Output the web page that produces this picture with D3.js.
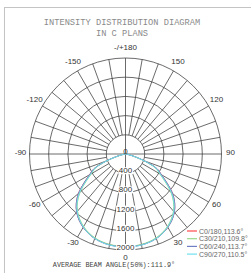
<!DOCTYPE html>
<html>
<head>
<meta charset="utf-8">
<script src="https://cdn.jsdelivr.net/npm/d3@7"></script>
<style>
  html, body { margin: 0; padding: 0; background: #fff; }
  svg { display: block; }
</style>
</head>
<body>
<svg id="chart" width="251" height="273"></svg>
<script>
// gamma angles (deg) for each sample, 0 = straight down
const gammas = [0, 5, 10, 15, 20, 25, 30, 35, 40, 45, 50, 55, 60, 65, 70, 75, 80, 85, 90];

// candela values, one array per C plane pair
const c0 = [1930, 1928, 1920, 1902, 1872, 1825, 1762, 1682, 1582, 1448, 1278, 1055, 862, 720, 420, 160, 50, 12, 0];
const c30 = [1925, 1922, 1912, 1892, 1860, 1810, 1745, 1660, 1555, 1415, 1235, 1010, 820, 690, 400, 150, 45, 10, 0];
const c60 = [1935, 1932, 1924, 1905, 1875, 1828, 1765, 1685, 1585, 1450, 1280, 1058, 865, 725, 425, 162, 50, 12, 0];
const c90 = [1940, 1936, 1926, 1905, 1873, 1823, 1755, 1672, 1566, 1428, 1250, 1025, 835, 700, 410, 155, 48, 11, 0];

const seriesNames = ["C0/180,113.6°", "C30/210,109.8°", "C60/240,113.7°", "C90/270,110.5°"];
const seriesColors = ["#ff4a4a", "#99d98a", "#6f7fc4", "#6fe0ee"];

const ringValues = [0, 400, 800, 1200, 1600, 2000];
const angleLabels = [180, 150, 120, 90, 60, 30, 0, -30, -60, -90, -120, -150];

const titleLines = ["INTENSITY DISTRIBUTION DIAGRAM", "IN C PLANS"];
const footer = "AVERAGE BEAM ANGLE(50%):111.9°";

const CX = 125.5;
const CY = 154;
const R = 96;
const LABEL_R = 105;
const GRID = "#3a3a3a";

const svg = d3.select("#chart");

// outer frame, only top and left show inside the window
svg.append("rect")
  .attr("x", 4.5).attr("y", 7.5)
  .attr("width", 400).attr("height", 400)
  .attr("fill", "none")
  .attr("stroke", "#c4c4c4")
  .attr("stroke-width", 1);

svg.append("g")
  .selectAll("text")
  .data(titleLines)
  .join("text")
  .attr("x", 122)
  .attr("y", (d, i) => 25 + i * 11)
  .attr("text-anchor", "middle")
  .attr("font-family", "'Liberation Mono', 'DejaVu Sans Mono', monospace")
  .attr("font-size", 8.7)
  .attr("fill", "#8a8a8a")
  .text((d) => d);

const r = d3.scaleLinear().domain([0, 2000]).range([0, R]);
const toRad = (deg) => (deg * Math.PI) / 180;

const plot = svg.append("g").attr("transform", `translate(${CX},${CY})`);

// rings
plot.append("g")
  .selectAll("circle")
  .data(ringValues.slice(1))
  .join("circle")
  .attr("r", (d) => r(d))
  .attr("fill", "none")
  .attr("stroke", GRID)
  .attr("stroke-width", 0.75);

// spokes every 10 degrees, main axes go through the centre
const spokes = d3.range(0, 360, 10);
plot.append("g")
  .selectAll("line")
  .data(spokes)
  .join("line")
  .attr("x1", (d) => (d % 90 === 0 ? 0 : r(400) * Math.sin(toRad(d))))
  .attr("y1", (d) => (d % 90 === 0 ? 0 : r(400) * Math.cos(toRad(d))))
  .attr("x2", (d) => R * Math.sin(toRad(d)))
  .attr("y2", (d) => R * Math.cos(toRad(d)))
  .attr("stroke", GRID)
  .attr("stroke-width", 0.75);

// curves: left half mirrors the C+180 plane
const allSeries = [c0, c30, c60, c90];
const radial = d3.lineRadial()
  .angle((d) => Math.PI - toRad(d.g))
  .radius((d) => r(d.v))
  .curve(d3.curveCatmullRom.alpha(0.5));

allSeries.forEach((vals, i) => {
  const pts = [];
  for (let k = gammas.length - 1; k > 0; k--) pts.push({ g: -gammas[k], v: vals[k] });
  gammas.forEach((g, k) => pts.push({ g: g, v: vals[k] }));
  plot.append("path")
    .attr("d", radial(pts))
    .attr("fill", "none")
    .attr("stroke", seriesColors[i])
    .attr("stroke-width", 1);
});

// angle labels
plot.append("g")
  .selectAll("text")
  .data(angleLabels)
  .join("text")
  .attr("x", (d) => LABEL_R * Math.sin(toRad(d)))
  .attr("y", (d) => LABEL_R * Math.cos(toRad(d)) - 2)
  .attr("text-anchor", "middle")
  .attr("dominant-baseline", "central")
  .attr("font-family", "'Liberation Sans', Arial, sans-serif")
  .attr("font-size", 8)
  .attr("fill", "#333")
  .text((d) => (d === 180 ? "-/+180" : d));

// intensity labels down the 0 axis with a white patch behind
const ringLabels = plot.append("g");
ringValues.forEach((v) => {
  const g = ringLabels.append("g");
  const t = g.append("text")
    .attr("x", 0)
    .attr("y", r(v) - 2.5)
    .attr("text-anchor", "middle")
    .attr("dominant-baseline", "central")
    .attr("font-family", "'Liberation Sans', Arial, sans-serif")
    .attr("font-size", 8)
    .attr("fill", "#333")
    .text(v);
  const bb = t.node().getBBox();
  if (v > 0) {
    g.insert("rect", "text")
      .attr("x", bb.x - 0.5).attr("y", bb.y + 1)
      .attr("width", bb.width + 1).attr("height", bb.height - 2)
      .attr("fill", "#fff");
  }
});

// legend
const legend = svg.append("g").attr("transform", "translate(187,231)");
seriesNames.forEach((name, i) => {
  const row = legend.append("g").attr("transform", `translate(0,${i * 7.7})`);
  row.append("line")
    .attr("x1", 0).attr("x2", 10)
    .attr("stroke", seriesColors[i])
    .attr("stroke-width", 1.2);
  row.append("text")
    .attr("x", 12)
    .attr("dominant-baseline", "central")
    .attr("font-family", "'Liberation Sans', Arial, sans-serif")
    .attr("font-size", 7)
    .attr("fill", "#666")
    .text(name);
});

svg.append("text")
  .attr("x", 114)
  .attr("y", 267)
  .attr("text-anchor", "middle")
  .attr("font-family", "'Liberation Mono', 'DejaVu Sans Mono', monospace")
  .attr("font-size", 6.8)
  .attr("fill", "#444")
  .text(footer);
</script>
</body>
</html>
